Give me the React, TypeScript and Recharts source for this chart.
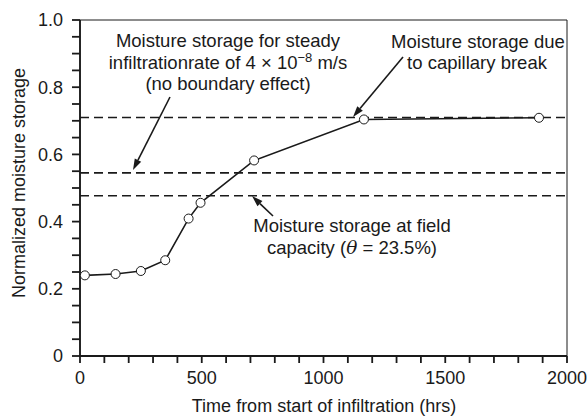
import { LineChart, Line, XAxis, YAxis, ReferenceLine, ReferenceArea } from 'recharts';

const hours = [20, 146, 250, 350, 446, 495, 715, 1166, 1885];
const storage = [0.24, 0.244, 0.253, 0.285, 0.409, 0.456, 0.582, 0.704, 0.709];

const capillaryBreak = 0.71;
const steadyInfiltration = 0.545;
const fieldCapacity = 0.477;

const xTicks = [0, 100, 200, 300, 400, 500, 600, 700, 800, 900, 1000, 1100, 1200, 1300, 1400, 1500, 1600, 1700, 1800, 1900, 2000];
const yTicks = [0, 0.05, 0.1, 0.15, 0.2, 0.25, 0.3, 0.35, 0.4, 0.45, 0.5, 0.55, 0.6, 0.65, 0.7, 0.75, 0.8, 0.85, 0.9, 0.95, 1];

const data = hours.map((h, i) => ({ h, v: storage[i] }));

const W = 587;
const H = 417;
const font = '"Liberation Sans", Arial, Helvetica, sans-serif';
const ink = '#1a1a1a';

const fmtX = (v: number) => (v % 500 === 0 ? String(v) : '');
const fmtY = (v: number) => {
  const k = Math.round(v * 100);
  if (k % 20 !== 0) return '';
  if (k === 0) return '0';
  return (k / 100).toFixed(1);
};

const Arrow = ({ x1, y1, x2, y2 }: { x1: number; y1: number; x2: number; y2: number }) => {
  const a = Math.atan2(y2 - y1, x2 - x1);
  const len = 11;
  const half = 3.6;
  const bx = x2 - len * Math.cos(a);
  const by = y2 - len * Math.sin(a);
  const px = -Math.sin(a) * half;
  const py = Math.cos(a) * half;
  return (
    <g>
      <line x1={x1} y1={y1} x2={bx} y2={by} stroke={ink} strokeWidth={1.6} />
      <polygon points={`${x2},${y2} ${bx + px},${by + py} ${bx - px},${by - py}`} fill={ink} />
    </g>
  );
};

const Annotations = () => (
  <svg
    width={W}
    height={H}
    style={{ position: 'absolute', left: 0, top: 0, pointerEvents: 'none' }}
    fontFamily={font}
    fontSize={18.5}
    fill={ink}
  >
    <text x={228} y={47} textAnchor="middle">Moisture storage for steady</text>
    <text x={228} y={68.5} textAnchor="middle">
      infiltrationrate of 4 × 10
      <tspan dy={-7} fontSize={13}>−8</tspan>
      <tspan dy={7}> m/s</tspan>
    </text>
    <text x={228} y={90} textAnchor="middle">(no boundary effect)</text>
    <Arrow x1={170} y1={97} x2={133} y2={170} />

    <text x={478} y={48} textAnchor="middle">Moisture storage due</text>
    <text x={477} y={69} textAnchor="middle">to capillary break</text>
    <Arrow x1={403} y1={57} x2={353} y2={117} />

    <text x={352} y={232} textAnchor="middle">Moisture storage at field</text>
    <text x={352} y={254} textAnchor="middle">
      capacity (<tspan fontFamily='"DejaVu Serif", serif' fontStyle="italic">θ</tspan> = 23.5%)
    </text>
    <Arrow x1={273} y1={216} x2={252} y2={196} />

    <text x={324} y={412} fontSize={18} textAnchor="middle">Time from start of infiltration (hrs)</text>
    <text x={19} y={183} fontSize={18} textAnchor="middle" dominantBaseline="central" transform="rotate(-90 19 183)">
      Normalized moisture storage
    </text>
  </svg>
);

export default function App() {
  return (
    <div style={{ position: 'absolute', left: 0, top: 0, width: W, height: H, background: '#fff' }}>
      <LineChart width={W} height={H} data={data} margin={{ top: 20, right: 20, bottom: 21, left: 20 }}>
        <XAxis
          dataKey="h"
          type="number"
          domain={[0, 2000]}
          ticks={xTicks}
          interval={0}
          tickFormatter={fmtX}
          tickSize={7}
          tickMargin={8}
          height={40}
          stroke={ink}
          strokeWidth={1.8}
          tick={{ fill: ink, fontSize: 18, fontFamily: font }}
          allowDataOverflow
        />
        <YAxis
          type="number"
          domain={[0, 1]}
          ticks={yTicks}
          interval={0}
          tickFormatter={fmtY}
          tickSize={8}
          tickMargin={9}
          width={60}
          stroke={ink}
          strokeWidth={1.8}
          tick={{ fill: ink, fontSize: 18, fontFamily: font }}
          allowDataOverflow
        />
        <ReferenceArea x1={0} x2={2000} y1={0} y2={1} fill="none" stroke={ink} strokeWidth={1} ifOverflow="extendDomain" />
        <ReferenceLine y={capillaryBreak} stroke={ink} strokeWidth={1.6} strokeDasharray="9 5" />
        <ReferenceLine y={steadyInfiltration} stroke={ink} strokeWidth={1.6} strokeDasharray="9 5" />
        <ReferenceLine y={fieldCapacity} stroke={ink} strokeWidth={1.6} strokeDasharray="9 5" />
        <Line
          dataKey="v"
          stroke={ink}
          strokeWidth={1.6}
          dot={{ r: 4.5, fill: '#fff', stroke: ink, strokeWidth: 1 }}
          isAnimationActive={false}
        />
      </LineChart>
      <Annotations />
    </div>
  );
}
